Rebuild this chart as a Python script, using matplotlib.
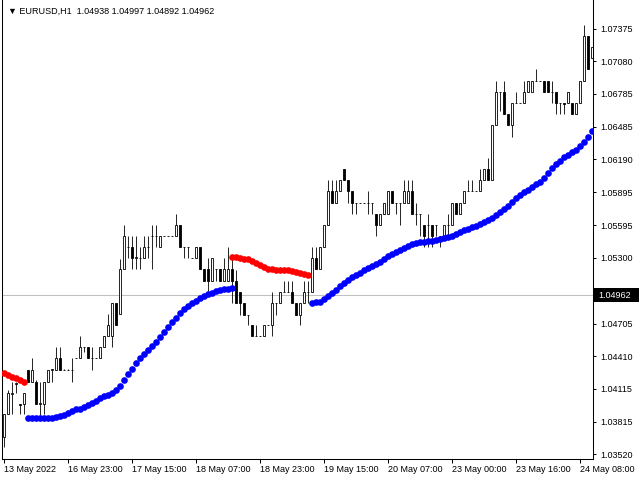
import numpy as np
import matplotlib.pyplot as plt
import matplotlib.transforms as mtransforms
from matplotlib.patches import Rectangle

plt.rcParams['font.family'] = ['Liberation Sans', 'DejaVu Sans']

symbol = "EURUSD,H1"
last_ohlc = [1.04938, 1.04997, 1.04892, 1.04962]
bid = 1.04962

# hourly candles, left to right
opens = [1.0368, 1.0389, 1.0407, 1.0416, 1.0398, 1.0398, 1.0428, 1.0418, 1.0418, 1.0398,
         1.0398, 1.0418, 1.0428, 1.0428, 1.0439, 1.0428, 1.0428, 1.0428, 1.0439, 1.0439,
         1.0449, 1.0449, 1.0439, 1.0439, 1.0439, 1.0449, 1.0459, 1.0459, 1.0489, 1.0479,
         1.0520, 1.0540, 1.0540, 1.0530, 1.0530, 1.0530, 1.0540, 1.0550, 1.0550, 1.0540,
         1.0550, 1.0550, 1.0550, 1.0550, 1.0560, 1.0540, 1.0540, 1.0530, 1.0530, 1.0540,
         1.0520, 1.0520, 1.0509, 1.0520, 1.0520, 1.0509, 1.0509, 1.0520, 1.0509, 1.0499,
         1.0489, 1.0478, 1.0469, 1.0459, 1.0459, 1.0459, 1.0469, 1.0469, 1.0489, 1.0489,
         1.0499, 1.0499, 1.0499, 1.0489, 1.0478, 1.0489, 1.0499, 1.0499, 1.0530, 1.0520,
         1.0540, 1.0560, 1.0590, 1.0580, 1.0590, 1.0610, 1.0600, 1.0590, 1.0580, 1.0580,
         1.0580, 1.0580, 1.0580, 1.0570, 1.0560, 1.0570, 1.0570, 1.0590, 1.0580, 1.0580,
         1.0580, 1.0580, 1.0590, 1.0570, 1.0570, 1.0560, 1.0560, 1.0560, 1.0560, 1.0550,
         1.0550, 1.0560, 1.0560, 1.0580, 1.0570, 1.0580, 1.0590, 1.0590, 1.0590, 1.0590,
         1.0600, 1.0610, 1.0600, 1.0650, 1.0680, 1.0680, 1.0660, 1.0650, 1.0670, 1.0670,
         1.0670, 1.0680, 1.0680, 1.0690, 1.0690, 1.0690, 1.0690, 1.0680, 1.0680, 1.0670,
         1.0670, 1.0670, 1.0670, 1.0660, 1.0670, 1.0690, 1.0731, 1.0711]
highs = [1.0389, 1.0410, 1.0418, 1.0418, 1.0398, 1.0408, 1.0428, 1.0439, 1.0419, 1.0418,
         1.0418, 1.0428, 1.0429, 1.0449, 1.0449, 1.0429, 1.0429, 1.0439, 1.0439, 1.0459,
         1.0449, 1.0449, 1.0449, 1.0439, 1.0449, 1.0459, 1.0479, 1.0489, 1.0489, 1.0529,
         1.0560, 1.0550, 1.0550, 1.0550, 1.0540, 1.0550, 1.0550, 1.0560, 1.0560, 1.0550,
         1.0550, 1.0550, 1.0550, 1.0570, 1.0560, 1.0540, 1.0540, 1.0530, 1.0540, 1.0540,
         1.0520, 1.0530, 1.0530, 1.0520, 1.0520, 1.0530, 1.0540, 1.0530, 1.0519, 1.0499,
         1.0489, 1.0478, 1.0469, 1.0469, 1.0459, 1.0469, 1.0469, 1.0499, 1.0489, 1.0499,
         1.0509, 1.0509, 1.0509, 1.0489, 1.0489, 1.0509, 1.0509, 1.0540, 1.0540, 1.0540,
         1.0560, 1.0600, 1.0600, 1.0600, 1.0600, 1.0610, 1.0600, 1.0590, 1.0580, 1.0580,
         1.0580, 1.0590, 1.0580, 1.0570, 1.0570, 1.0580, 1.0590, 1.0590, 1.0580, 1.0580,
         1.0600, 1.0600, 1.0600, 1.0580, 1.0570, 1.0560, 1.0570, 1.0560, 1.0560, 1.0550,
         1.0560, 1.0570, 1.0580, 1.0580, 1.0580, 1.0590, 1.0600, 1.0600, 1.0590, 1.0610,
         1.0610, 1.0620, 1.0650, 1.0690, 1.0680, 1.0690, 1.0660, 1.0670, 1.0680, 1.0670,
         1.0690, 1.0690, 1.0690, 1.0701, 1.0690, 1.0690, 1.0690, 1.0690, 1.0680, 1.0670,
         1.0670, 1.0680, 1.0670, 1.0670, 1.0690, 1.0741, 1.0731, 1.0721]
lows = [1.0359, 1.0389, 1.0389, 1.0408, 1.0389, 1.0389, 1.0418, 1.0418, 1.0398, 1.0388,
        1.0389, 1.0418, 1.0418, 1.0428, 1.0428, 1.0428, 1.0428, 1.0418, 1.0439, 1.0439,
        1.0445, 1.0439, 1.0428, 1.0439, 1.0439, 1.0449, 1.0459, 1.0449, 1.0469, 1.0479,
        1.0520, 1.0530, 1.0520, 1.0520, 1.0520, 1.0530, 1.0530, 1.0520, 1.0540, 1.0540,
        1.0550, 1.0550, 1.0550, 1.0550, 1.0540, 1.0530, 1.0530, 1.0530, 1.0530, 1.0520,
        1.0509, 1.0499, 1.0509, 1.0509, 1.0509, 1.0509, 1.0509, 1.0489, 1.0489, 1.0478,
        1.0478, 1.0469, 1.0459, 1.0459, 1.0459, 1.0459, 1.0469, 1.0459, 1.0478, 1.0489,
        1.0499, 1.0499, 1.0489, 1.0478, 1.0469, 1.0489, 1.0489, 1.0499, 1.0520, 1.0520,
        1.0540, 1.0560, 1.0580, 1.0580, 1.0590, 1.0600, 1.0580, 1.0570, 1.0570, 1.0580,
        1.0580, 1.0570, 1.0570, 1.0550, 1.0560, 1.0570, 1.0570, 1.0580, 1.0570, 1.0560,
        1.0580, 1.0580, 1.0570, 1.0560, 1.0550, 1.0540, 1.0540, 1.0540, 1.0550, 1.0540,
        1.0550, 1.0550, 1.0560, 1.0570, 1.0570, 1.0580, 1.0590, 1.0590, 1.0590, 1.0590,
        1.0600, 1.0600, 1.0600, 1.0650, 1.0663, 1.0660, 1.0650, 1.0639, 1.0670, 1.0670,
        1.0670, 1.0680, 1.0680, 1.0690, 1.0690, 1.0680, 1.0680, 1.0670, 1.0660, 1.0660,
        1.0660, 1.0670, 1.0660, 1.0660, 1.0670, 1.0690, 1.0701, 1.0711]
closes = [1.0389, 1.0408, 1.0408, 1.0417, 1.0397, 1.0408, 1.0418, 1.0428, 1.0398, 1.0399,
          1.0418, 1.0428, 1.0429, 1.0439, 1.0428, 1.0428, 1.0428, 1.0428, 1.0439, 1.0449,
          1.0449, 1.0439, 1.0439, 1.0439, 1.0449, 1.0459, 1.0469, 1.0489, 1.0469, 1.0520,
          1.0550, 1.0540, 1.0530, 1.0531, 1.0530, 1.0540, 1.0540, 1.0550, 1.0550, 1.0550,
          1.0550, 1.0550, 1.0550, 1.0560, 1.0540, 1.0540, 1.0540, 1.0530, 1.0540, 1.0520,
          1.0509, 1.0509, 1.0530, 1.0520, 1.0509, 1.0520, 1.0520, 1.0509, 1.0489, 1.0489,
          1.0478, 1.0478, 1.0459, 1.0459, 1.0459, 1.0469, 1.0469, 1.0489, 1.0489, 1.0499,
          1.0499, 1.0499, 1.0489, 1.0478, 1.0489, 1.0499, 1.0499, 1.0530, 1.0520, 1.0540,
          1.0560, 1.0590, 1.0580, 1.0590, 1.0600, 1.0600, 1.0590, 1.0580, 1.0580, 1.0580,
          1.0580, 1.0580, 1.0580, 1.0560, 1.0570, 1.0580, 1.0590, 1.0580, 1.0580, 1.0580,
          1.0590, 1.0590, 1.0570, 1.0570, 1.0570, 1.0550, 1.0560, 1.0550, 1.0560, 1.0550,
          1.0560, 1.0560, 1.0580, 1.0570, 1.0580, 1.0590, 1.0590, 1.0590, 1.0590, 1.0600,
          1.0610, 1.0600, 1.0650, 1.0680, 1.0680, 1.0660, 1.0650, 1.0670, 1.0670, 1.0670,
          1.0680, 1.0690, 1.0690, 1.0690, 1.0690, 1.0680, 1.0680, 1.0680, 1.0670, 1.0670,
          1.0669, 1.0680, 1.0660, 1.0670, 1.0690, 1.0731, 1.0701, 1.0721]

# trend line dots, split in colour segments (first bar of each segment)
red_1_start = 0
red_1 = [1.04257, 1.04239, 1.04221, 1.04212, 1.04194, 1.04176]
blue_1_start = 6
blue_1 = [1.03853, 1.03853, 1.03853, 1.03853, 1.03853, 1.03853, 1.03853, 1.03856,
          1.03864, 1.03877, 1.03891, 1.03909, 1.03927, 1.03936, 1.03954, 1.03968,
          1.03986, 1.04008, 1.04031, 1.04045, 1.04058, 1.04076, 1.04103, 1.04140,
          1.04194, 1.04244, 1.04294, 1.04348, 1.04393, 1.04429, 1.04465, 1.04502,
          1.04538, 1.04579, 1.04628, 1.04674, 1.04719, 1.04755, 1.04800, 1.04832,
          1.04864, 1.04891, 1.04913, 1.04936, 1.04954, 1.04972, 1.04981, 1.04995,
          1.05004, 1.05013, 1.05022, 1.05031]
red_2_start = 57
red_2 = [1.05303, 1.05303, 1.05298, 1.05289, 1.05286, 1.05275, 1.05257, 1.05235,
         1.05214, 1.05203, 1.05196, 1.05190, 1.05187, 1.05187, 1.05185, 1.05181,
         1.05174, 1.05164, 1.05153, 1.05142]
blue_2_start = 77
blue_2 = [1.04895, 1.04897, 1.04903, 1.04927, 1.04954, 1.04981, 1.05008, 1.05045,
          1.05076, 1.05103, 1.05126, 1.05140, 1.05162, 1.05190, 1.05212, 1.05226,
          1.05244, 1.05262, 1.05289, 1.05316, 1.05334, 1.05352, 1.05371, 1.05393,
          1.05411, 1.05425, 1.05434, 1.05443, 1.05447, 1.05452, 1.05456, 1.05461,
          1.05470, 1.05479, 1.05488, 1.05501, 1.05515, 1.05529, 1.05547, 1.05561,
          1.05576, 1.05592, 1.05606, 1.05624, 1.05638, 1.05656, 1.05687, 1.05710,
          1.05746, 1.05773, 1.05805, 1.05841, 1.05868, 1.05895, 1.05918, 1.05941,
          1.05968, 1.05990, 1.06018, 1.06067, 1.06113, 1.06149, 1.06180, 1.06208,
          1.06230, 1.06253, 1.06280, 1.06312, 1.06348, 1.06393, 1.06443]

time_labels = ['13 May 2022', '16 May 23:00', '17 May 15:00', '18 May 07:00', '18 May 23:00',
               '19 May 15:00', '20 May 07:00', '23 May 00:00', '23 May 16:00', '24 May 08:00']
price_ticks = [1.07375, 1.07080, 1.06785, 1.06485, 1.06190, 1.05895, 1.05595,
               1.05300, 1.05005, 1.04705, 1.04410, 1.04115, 1.03815, 1.03520]

o = np.array(opens); h = np.array(highs); l = np.array(lows); c = np.array(closes)
x = np.arange(len(o))

fig = plt.figure(figsize=(6.4, 4.8), dpi=100)
ax = fig.add_axes([2 / 640, 21 / 480, 591 / 640, 459 / 480])

ax.axhline(bid, color='#c0c0c0', lw=0.75, zorder=1)

ax.vlines(x, l, h, color='black', lw=0.6, zorder=2)
body_col = np.where(c >= o, 'white', 'black')
ax.bar(x, c - o, bottom=o, width=0.55, color=body_col, edgecolor='black',
       linewidth=0.6, zorder=3)

for start, vals, col in [(red_1_start, red_1, '#ff0000'), (blue_1_start, blue_1, '#0000ff'),
                         (red_2_start, red_2, '#ff0000'), (blue_2_start, blue_2, '#0000ff')]:
    ax.plot(np.arange(start, start + len(vals)), vals, 'o', color=col, ms=4.8,
            mew=0, zorder=4)

ax.set_xlim(-0.425, 147.3)
ax.set_ylim(1.03479, 1.07633)

ax.set_xticks(np.arange(len(time_labels)) * 16)
ax.set_xticklabels(time_labels)
for t in ax.get_xticklabels():
    t.set_ha('left')
ax.set_yticks(price_ticks)
ax.set_yticklabels(['%.5f' % p for p in price_ticks])

ax.yaxis.tick_right()
ax.tick_params(axis='y', direction='out', length=2.5, width=0.75, pad=3, labelsize=6.5)
ax.tick_params(axis='x', direction='out', length=3, width=0.75, pad=1.5, labelsize=6.5)
ax.spines['top'].set_visible(False)
for s in ['left', 'right', 'bottom']:
    ax.spines[s].set_linewidth(0.75)

# current bid label on the price scale (covers the 1.05005 label like the original)
trans = mtransforms.blended_transform_factory(ax.transAxes, ax.transData)
span = 1.07633 - 1.03479
bh = span * 14 / 459
ax.add_patch(Rectangle((1.0017, bid - bh / 2), 45 / 591, bh, transform=trans,
                       facecolor='black', edgecolor='none', clip_on=False, zorder=5))
ax.text(1.0017 + 4 / 591, bid, '%.5f' % bid, transform=trans, color='white',
        fontsize=6.5, ha='left', va='center', clip_on=False, zorder=6)

ax.text(6 / 591, 1 - 11 / 459, '\u25bc ' + symbol + '  ' + ' '.join('%.5f' % v for v in last_ohlc),
        transform=ax.transAxes, fontsize=6.5, ha='left', va='center')

fig.savefig('out.png', dpi=100)
